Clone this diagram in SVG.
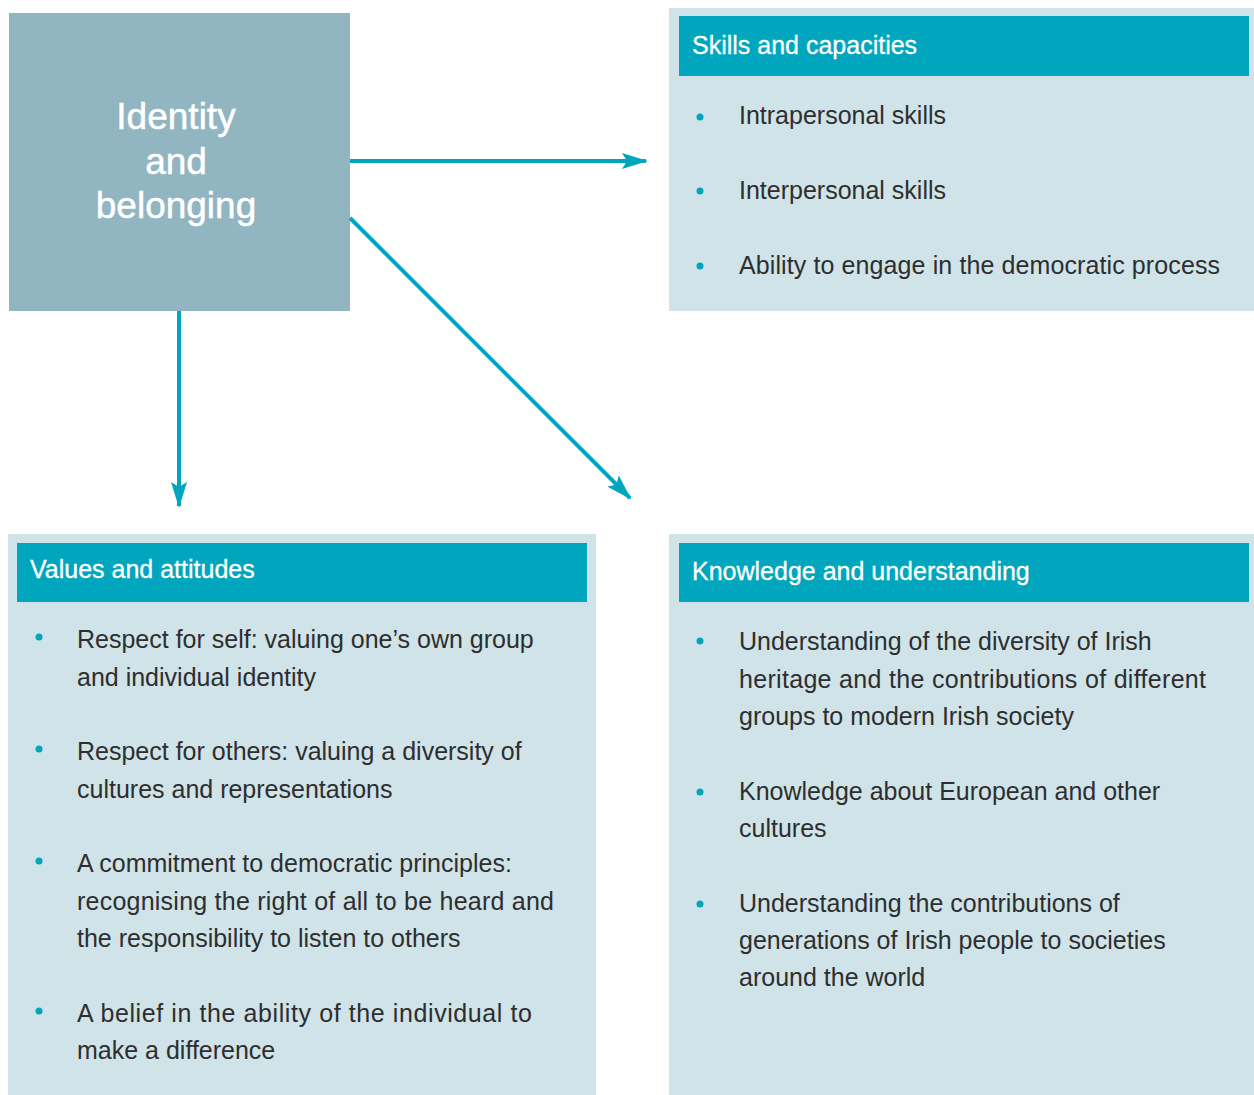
<svg xmlns="http://www.w3.org/2000/svg" width="1254" height="1095" viewBox="0 0 1254 1095">
<style>
.panel{fill:#cfe3e9}
.hdr{fill:#00a6bd}
.hdrt{font-family:"Liberation Sans",Arial,sans-serif;font-size:25px;fill:#ffffff;stroke:#ffffff;stroke-width:0.3}
.body{font-family:"Liberation Sans",Arial,sans-serif;font-size:25px;fill:#2e2e2e}
.bul{fill:#00a6bd}
.title{font-family:"Liberation Sans",Arial,sans-serif;font-size:37px;fill:#ffffff;stroke:#ffffff;stroke-width:0.5;text-anchor:middle}
.conn{stroke:#00a6bd;stroke-width:4;fill:none}
</style>
<defs>
<marker id="ah" markerUnits="userSpaceOnUse" viewBox="0 0 26 16" refX="24" refY="8" markerWidth="26" markerHeight="16" orient="auto">
<path d="M0,0 L26,8 L0,16 L5,8 Z" fill="#00a6bd"/>
</marker>
</defs>
<rect width="1254" height="1095" fill="#ffffff"/>
<g id="identity">
<rect x="9" y="13" width="341" height="298" fill="#91b5c1"/>
<text class="title" x="176" y="129">Identity</text>
<text class="title" x="176" y="174">and</text>
<text class="title" x="176" y="218">belonging</text>
</g>
<g id="skills">
<rect class="panel" x="669" y="8" width="585" height="303"/>
<rect class="hdr" x="679" y="16" width="570" height="60"/>
<text class="hdrt" x="692" y="54">Skills and capacities</text>
<circle class="bul" cx="700" cy="117" r="3.5"/>
<text class="body" x="739" y="124">Intrapersonal skills</text>
<circle class="bul" cx="700" cy="191" r="3.5"/>
<text class="body" x="739" y="199">Interpersonal skills</text>
<circle class="bul" cx="700" cy="266" r="3.5"/>
<text class="body" x="739" y="274" textLength="481" lengthAdjust="spacing">Ability to engage in the democratic process</text>
</g>
<g id="values">
<rect class="panel" x="8" y="534" width="588" height="561"/>
<rect class="hdr" x="17" y="543" width="570" height="59"/>
<text class="hdrt" x="30" y="578">Values and attitudes</text>
<circle class="bul" cx="39" cy="637" r="3.5"/>
<text class="body" x="77" y="648">Respect for self: valuing one’s own group</text>
<text class="body" x="77" y="686">and individual identity</text>
<circle class="bul" cx="39" cy="749" r="3.5"/>
<text class="body" x="77" y="760">Respect for others: valuing a diversity of</text>
<text class="body" x="77" y="798">cultures and representations</text>
<circle class="bul" cx="39" cy="861" r="3.5"/>
<text class="body" x="77" y="872">A commitment to democratic principles:</text>
<text class="body" x="77" y="910" textLength="477" lengthAdjust="spacing">recognising the right of all to be heard and</text>
<text class="body" x="77" y="947">the responsibility to listen to others</text>
<circle class="bul" cx="39" cy="1011" r="3.5"/>
<text class="body" x="77" y="1022" textLength="455" lengthAdjust="spacing">A belief in the ability of the individual to</text>
<text class="body" x="77" y="1059">make a difference</text>
</g>
<g id="knowledge">
<rect class="panel" x="669" y="534" width="585" height="561"/>
<rect class="hdr" x="679" y="543" width="570" height="59"/>
<text class="hdrt" x="692" y="580">Knowledge and understanding</text>
<circle class="bul" cx="700" cy="641" r="3.5"/>
<text class="body" x="739" y="650">Understanding of the diversity of Irish</text>
<text class="body" x="739" y="688" textLength="467" lengthAdjust="spacing">heritage and the contributions of different</text>
<text class="body" x="739" y="725">groups to modern Irish society</text>
<circle class="bul" cx="700" cy="792" r="3.5"/>
<text class="body" x="739" y="800">Knowledge about European and other</text>
<text class="body" x="739" y="837">cultures</text>
<circle class="bul" cx="700" cy="904" r="3.5"/>
<text class="body" x="739" y="912">Understanding the contributions of</text>
<text class="body" x="739" y="949">generations of Irish people to societies</text>
<text class="body" x="739" y="986">around the world</text>
</g>
<g id="connectors">
<line class="conn" x1="350" y1="161" x2="646" y2="161" marker-end="url(#ah)"/>
<line class="conn" x1="350" y1="218" x2="630" y2="498" marker-end="url(#ah)"/>
<line class="conn" x1="179" y1="311" x2="179" y2="506" marker-end="url(#ah)"/>
</g>
</svg>
